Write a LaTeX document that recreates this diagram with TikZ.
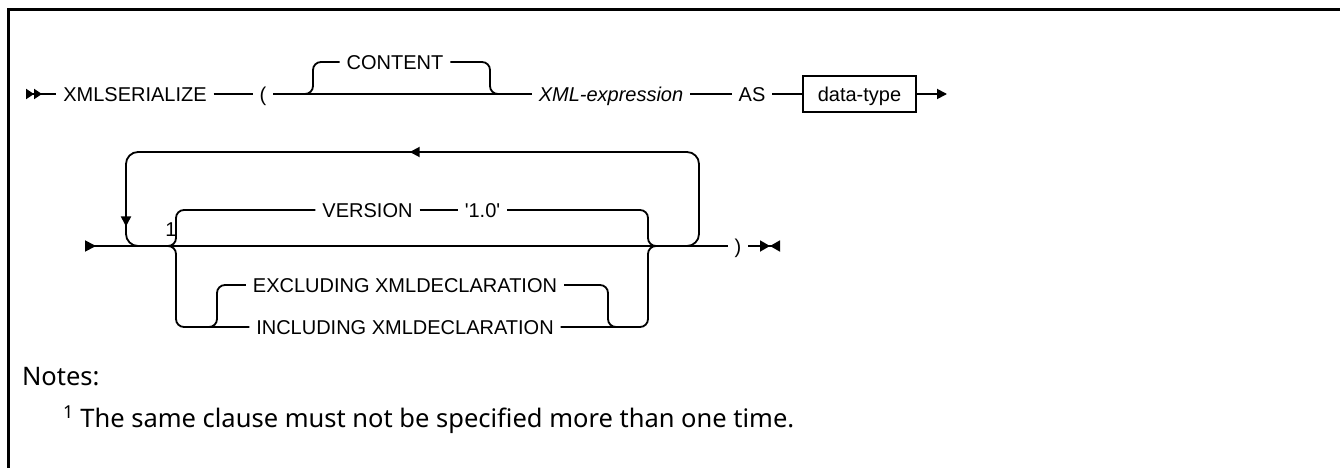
\documentclass[tikz,border=0pt]{standalone}
\usepackage{fontspec}
\setmainfont{Liberation Sans}
\newfontfamily\notefont{Noto Sans}
\usetikzlibrary{arrows.meta,decorations.markings}
\tikzset{railtip/.tip={Triangle[length=10pt, width=10pt]}}
\begin{document}
\begin{tikzpicture}[x=1pt, y=-1pt, line width=1.8pt,
  every node/.style={font=\fontsize{20}{24}\selectfont, inner sep=0pt, outer xsep=7pt, text height=14.3pt, text depth=0pt},
  typebox/.style={draw, line width=1.5pt, outer sep=0pt, minimum width=113pt, minimum height=36pt},
  notetext/.style={anchor=west, font=\notefont\fontsize{25.5}{30}\selectfont, text height=18.2pt},
  railbend/.style={rounded corners=8pt}]
\useasboundingbox (0,0) rectangle (1340,468);
\draw[line width=3pt] (8,468) -- (8,10) -- (1340,10);
% first row
\coordinate (begin) at (26,94);
\node (kw) at (135,94) {XMLSERIALIZE};
\node (lparen) at (263,94) {(};
\node (content) at (395,62) {CONTENT};
\node (expr) at (611,94) {\itshape XML-expression};
\node (as) at (752,94) {AS};
\node (dtype) [typebox] at (859.5,94) {data-type};
\coordinate (row1end) at (947,94);
\coordinate (csplit) at (300,94);
\coordinate (cjoin) at (500,94);
\draw[{Triangle[reversed,length=8pt,width=10pt]Triangle[reversed,length=8pt,width=10pt]}-] (begin) -- (kw);
\draw (kw) -- (lparen);
\draw (lparen) -- (expr);
\draw[railbend] (csplit) -| (313,62) -- (content);
\draw[railbend] (content) -| (490,94) -- (cjoin);
\draw (expr) -- (as);
\draw (as) -- (dtype);
\draw[-railtip] (dtype) -- (row1end);
% second row
\coordinate (row2begin) at (85,246);
\node (rparen) at (738,246) {)};
\coordinate (stop) at (780,246);
\node (fn) at (171,229) {1};
\node (version) at (367.5,210) {VERSION};
\node (onezero) at (482.5,210) {\textquotesingle 1.0\textquotesingle};
\node (excl) at (405,285) {EXCLUDING XMLDECLARATION};
\node (incl) at (405,327) {INCLUDING XMLDECLARATION};
\coordinate (lsplit) at (166,246);
\coordinate (rjoin) at (660,246);
\coordinate (isplit) at (207,327);
\coordinate (ijoin) at (618,327);
\draw[{Triangle[reversed,length=11pt,width=11pt]}-] (row2begin) -- (rparen);
\draw[-{Triangle[length=10pt,width=11pt]Triangle[reversed,length=10pt,width=11pt]}] (rparen) -- (stop);
\draw[rounded corners=12pt, postaction={decorate}, decoration={markings,
  mark=at position 392pt with {\arrow{railtip}},
  mark=at position 745pt with {\arrow{railtip}}}]
  (680,246) -| (699,152) -| (126,246) -- (145,246);
\draw[railbend] (lsplit) -| (176,210) -- (version);
\draw (version) -- (onezero);
\draw[railbend] (onezero) -| (648,246) -- (rjoin);
\draw[railbend] (lsplit) -| (176,327) -- (incl);
\draw[railbend] (isplit) -| (217,285) -- (excl);
\draw[railbend] (excl) -| (608,327) -- (ijoin);
\draw[railbend] (incl) -| (648,246) -- (rjoin);
% notes
\node (notes) [notetext] at (15,376) {Notes:};
\node (note1) [notetext] at (56,418) {\textsuperscript{1} The same clause must not be specified more than one time.};
\end{tikzpicture}
\end{document}
